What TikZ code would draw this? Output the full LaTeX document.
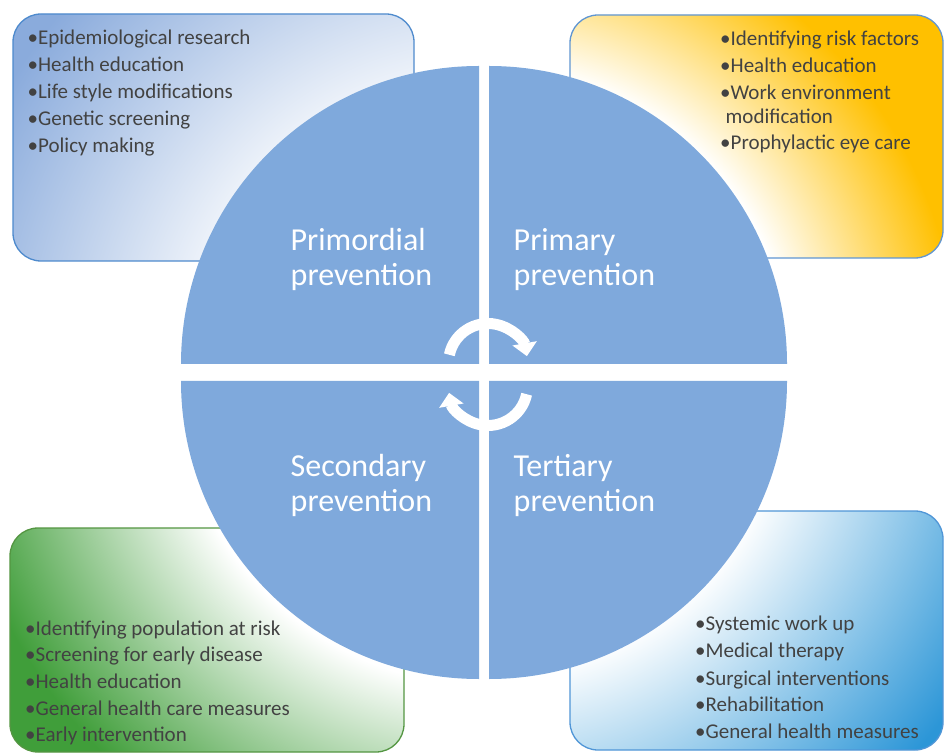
\documentclass[tikz,border=0pt]{standalone}
\usepackage{fontspec}
\setmainfont{Carlito}
\usetikzlibrary{arrows.meta}

% palette
\definecolor{quad}{RGB}{127,169,220}
\definecolor{txt}{RGB}{66,66,66}
\definecolor{tlblue}{RGB}{138,171,220}
\definecolor{trgold}{RGB}{255,192,0}
\definecolor{blgreen}{RGB}{64,158,58}
\definecolor{brblue}{RGB}{44,150,215}
\definecolor{tlline}{RGB}{78,138,205}
\definecolor{trline}{RGB}{96,150,210}
\definecolor{blline}{RGB}{84,150,66}
\definecolor{brline}{RGB}{80,150,215}

% halo shadings: white around the wheel, fading to the card colour outwards
% (the +-25bp square of a shading is fitted to the shaded path)
\pgfdeclareradialshading{haloTL}{\pgfpoint{0bp}{0bp}}{color(0bp)=(white); color(10bp)=(white); color(21.5bp)=(tlblue); color(50bp)=(tlblue)}
\pgfdeclareradialshading{haloTR}{\pgfpoint{0bp}{0bp}}{color(0bp)=(white); color(11.7bp)=(white); color(18.2bp)=(trgold); color(50bp)=(trgold)}
\pgfdeclareradialshading{haloBL}{\pgfpoint{0bp}{0bp}}{color(0bp)=(white); color(12bp)=(white); color(20.8bp)=(blgreen); color(50bp)=(blgreen)}
\pgfdeclareradialshading{haloBR}{\pgfpoint{0bp}{0bp}}{color(0bp)=(white); color(11.5bp)=(white); color(22bp)=(brblue); color(50bp)=(brblue)}

\begin{document}
\begin{tikzpicture}[x=1pt,y=1pt,
  cardline/.style={rounded corners=28pt, line width=1.3pt},
  listitem/.style={anchor=base west, inner sep=0pt, text=txt, font=\fontsize{21}{25}\selectfont},
  qlabel/.style={anchor=base west, inner sep=0pt, text=white, font=\fontsize{32}{35}\selectfont},
  cyc/.style={draw=white, line width=11pt, -{Triangle[width=24pt,length=13pt]}}]
\useasboundingbox (0,0) rectangle (944,753);
\fill[white] (0,0) rectangle (944,753);

\coordinate (wc) at (487,380);

% ---- cards ----
\begin{scope}
  \clip[rounded corners=28pt] (13,492) rectangle (414,739);
  \shade[shading=haloTL] (wc) circle (650);
\end{scope}
\draw[cardline, draw=tlline] (13,492) rectangle (414,739);

\begin{scope}
  \clip[rounded corners=28pt] (570,495) rectangle (943,738);
  \shade[shading=haloTR] (wc) circle (650);
\end{scope}
\draw[cardline, draw=trline] (570,495) rectangle (943,738);

\begin{scope}
  \clip[rounded corners=28pt] (10,1) rectangle (404,225);
  \shade[shading=haloBL] (wc) circle (650);
\end{scope}
\draw[cardline, draw=blline] (10,1) rectangle (404,225);

\begin{scope}
  \clip[rounded corners=28pt] (570,3) rectangle (943,242);
  \shade[shading=haloBR] (wc) circle (650);
\end{scope}
\draw[cardline, draw=brline] (570,3) rectangle (943,242);

% ---- wheel quadrants ----
\fill[quad] (479,389) -- ++(-298,0) arc[start angle=180, end angle=90, radius=298] -- cycle;
\fill[quad] (489,389) -- ++(0,298) arc[start angle=90, end angle=0, radius=298] -- cycle;
\fill[quad] (479,372) -- ++(-298,0) arc[start angle=180, end angle=270, radius=298] -- cycle;
\fill[quad] (489,372) -- ++(0,-298) arc[start angle=270, end angle=360, radius=298] -- cycle;

% ---- cycle arrows ----
\coordinate (ta) at (488,390);
\coordinate (ba) at (488,367);
\draw[cyc] ([shift={(168:39.5)}]ta) arc[start angle=168, end angle=10, radius=39.5];
\draw[cyc] ([shift={(-12:39.5)}]ba) arc[start angle=-12, end angle=-170, radius=39.5];

% ---- quadrant titles ----
\node[qlabel] (pd1) at (290.5,502.3) {Primordial};
\node[qlabel] (pd2) at (290.5,467.3) {prevention};
\node[qlabel] (pr1) at (513.5,502.3) {Primary};
\node[qlabel] (pr2) at (513.5,467.3) {prevention};
\node[qlabel] (se1) at (290.5,276.3) {Secondary};
\node[qlabel] (se2) at (290.5,241.3) {prevention};
\node[qlabel] (te1) at (513.5,276.3) {Tertiary};
\node[qlabel] (te2) at (513.5,241.3) {prevention};

% ---- card lists ----
\node[listitem] (tl1) at (27.5,708.7) {•Epidemiological research};
\node[listitem] (tl2) at (27.5,681.7) {•Health education};
\node[listitem] (tl3) at (27.5,654.7) {•Life style modifications};
\node[listitem] (tl4) at (27.5,627.7) {•Genetic screening};
\node[listitem] (tl5) at (27.5,600.7) {•Policy making};

\node[listitem] (tr1) at (720,707) {•Identifying risk factors};
\node[listitem] (tr2) at (720,680.3) {•Health education};
\node[listitem] (tr3) at (720,653) {•Work environment};
\node[listitem] (tr4) at (725.5,629.7) {modification};
\node[listitem] (tr5) at (720,603) {•Prophylactic eye care};

\node[listitem] (bl1) at (25,118) {•Identifying population at risk};
\node[listitem] (bl2) at (25,91.3) {•Screening for early disease};
\node[listitem] (bl3) at (25,64.7) {•Health education};
\node[listitem] (bl4) at (25,38) {•General health care measures};
\node[listitem] (bl5) at (25,11.3) {•Early intervention};

\node[listitem] (br1) at (695,122.3) {•Systemic work up};
\node[listitem] (br2) at (695,95.7) {•Medical therapy};
\node[listitem] (br3) at (695,68) {•Surgical interventions};
\node[listitem] (br4) at (695,41.3) {•Rehabilitation};
\node[listitem] (br5) at (695,14.7) {•General health measures};
\end{tikzpicture}
\end{document}
